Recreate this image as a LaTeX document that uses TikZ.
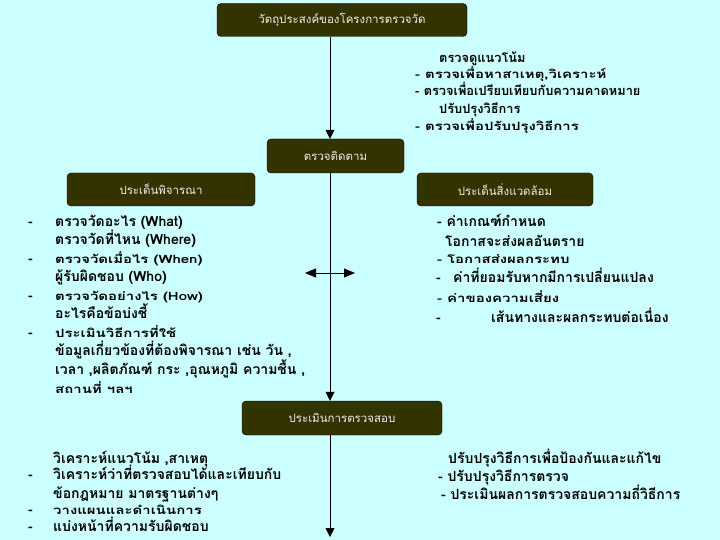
\documentclass[tikz,border=0pt]{standalone}
\usepackage{fontspec}
\usetikzlibrary{arrows.meta}
\newfontfamily\thai[Script=Thai]{Loma}
\newfontfamily\thaiwide[Script=Thai, FakeStretch=1.3]{Loma}
\definecolor{bg}{HTML}{CCFFFF}
\definecolor{boxfill}{HTML}{333300}
\definecolor{boxtext}{HTML}{EEEEEE}
\begin{document}
\begin{tikzpicture}[x=1pt,y=-1pt,
  box/.style={draw=black, fill=boxfill, rounded corners=4pt, text=boxtext,
    font=\thai\fontsize{11.5}{13}\selectfont, minimum height=33pt, inner sep=0pt},
  txtbase/.style={anchor=west, inner sep=0pt, text height=13pt, text depth=1pt},
  big/.style={txtbase, font=\thai\bfseries\fontsize{14}{16}\selectfont},
  mid/.style={txtbase, font=\thai\bfseries\fontsize{12.8}{15}\selectfont},
  sml/.style={txtbase, font=\thaiwide\bfseries\fontsize{11.5}{13}\selectfont},
  arr/.style={-{Triangle[width=9pt,length=9pt]}, line width=0.8pt},
  darr/.style={{Triangle[width=9pt,length=11pt]}-{Triangle[width=9pt,length=11pt]}, line width=0.8pt}]
\fill[bg] (0,0) rectangle (720,540);
\useasboundingbox (0,0) rectangle (720,540);

% boxes
\node[box, minimum width=250pt] (obj) at (342,20) {วัตถุประสงค์ของโครงการตรวจวัด};
\node[box, minimum width=137pt, minimum height=34pt] (mon) at (335.5,156) {ตรวจติดตาม};
\node[box, minimum width=188pt] (cons) at (161,189.5) {ประเด็นพิจารณา};
\node[box, minimum width=176pt] (env) at (505,189.5) {ประเด็นสิ่งแวดล้อม};
\node[box, minimum width=200pt, minimum height=34pt] (eval) at (342,418) {ประเมินการตรวจสอบ};

% connectors
\coordinate (vx) at (330,0);
\coordinate (bend) at (330,537);
\coordinate (la) at (305,273);
\coordinate (ra) at (355,273);
\draw[arr] (obj.south -| vx) -- (mon.north -| vx);
\draw[arr] (mon.south -| vx) -- (eval.north -| vx);
\draw[arr] (eval.south -| vx) -- (bend);
\draw[darr] (la) -- (ra);

% top right block
\node[mid] (t1) at (439,57) {ตรวจดูแนวโน้ม};
\node[sml] (t2) at (415,73) {- ตรวจเพื่อหาสาเหตุ,วิเคราะห์};
\node[mid] (t3) at (415,90) {- ตรวจเพื่อเปรียบเทียบกับความคาดหมาย};
\node[mid] (t4) at (439,108) {ปรับปรุงวิธีการ};
\node[sml] (t5) at (415,125) {- ตรวจเพื่อปรับปรุงวิธีการ};

% left block
\node[big] (d1) at (28,220) {-};
\node[big] (l1) at (55,220) {ตรวจวัดอะไร (What)};
\node[big] (l2) at (55,238) {ตรวจวัดที่ไหน (Where)};
\node[big] (d3) at (28,257) {-};
\node[sml] (l3) at (55,257) {ตรวจวัดเมื่อไร (When)};
\node[big] (l4) at (55,275) {ผู้รับผิดชอบ (Who)};
\node[big] (d5) at (28,294) {-};
\node[sml] (l5) at (55,294) {ตรวจวัดอย่างไร (How)};
\node[big] (l6) at (55,312) {อะไรคือข้อบ่งชี้};
\node[big] (d7) at (28,331) {-};
\node[sml] (l7) at (55,331) {ประเมินวิธีการที่ใช้};
\node[big] (l8) at (55,349) {ข้อมูลเกี่ยวข้องที่ต้องพิจารณา เช่น วัน ,};
\node[big] (l9) at (55,368) {เวลา ,ผลิตภัณฑ์ กระ ,อุณหภูมิ ความชื้น ,};
\node[sml] (l10) at (55,387) {สถานที่ ฯลฯ};

% right block
\node[big] (r1) at (437,220) {- ค่าเกณฑ์กำหนด};
\node[big] (r2) at (445,240) {โอกาสจะส่งผลอันตราย};
\node[sml] (r3) at (437,257) {- โอกาสส่งผลกระทบ};
\node[big] (e4) at (436,276) {-};
\node[big] (r4) at (453,276) {ค่าที่ยอมรับหากมีการเปลี่ยนแปลง};
\node[sml] (r5) at (437,296) {- ค่าของความเสี่ยง};
\node[big] (e6) at (436,316) {-};
\node[big] (r6) at (491,316) {เส้นทางและผลกระทบต่อเนื่อง};

% bottom left block
\node[big] (b1) at (53,457) {วิเคราะห์แนวโน้ม ,สาเหตุ};
\node[big] (f2) at (28,473) {-};
\node[big] (b2) at (53,473) {วิเคราะห์ว่าที่ตรวจสอบได้และเทียบกับ};
\node[big] (b3) at (53,492) {ข้อกฎหมาย มาตรฐานต่างๆ};
\node[big] (f4) at (28,508) {-};
\node[sml] (b4) at (53,508) {วางแผนและดำเนินการ};
\node[big] (f5) at (28,525) {-};
\node[big] (b5) at (53,525) {แบ่งหน้าที่ความรับผิดชอบ};

% bottom right block
\node[big] (c1) at (448,457) {ปรับปรุงวิธีการเพื่อป้องกันและแก้ไข};
\node[big] (c2) at (438,475) {- ปรับปรุงวิธีการตรวจ};
\node[big] (c3) at (441,493) {- ประเมินผลการตรวจสอบความถี่วิธีการ};
\end{tikzpicture}
\end{document}
